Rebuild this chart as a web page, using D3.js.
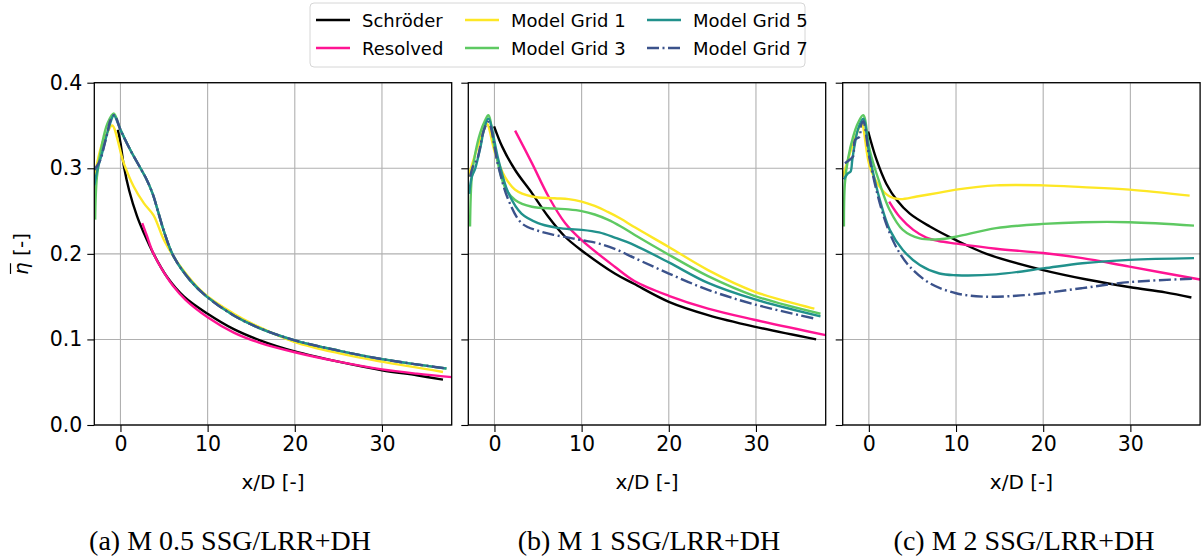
<!DOCTYPE html>
<html>
<head>
<meta charset="utf-8">
<script src="https://cdn.jsdelivr.net/npm/d3@7"></script>
<style>
body { margin: 0; background: #fff; }
</style>
</head>
<body>
<svg id="chart" width="1201" height="560"></svg>
<script>
// ---- data: [x/D, eta] ----
// panel (a) M 0.5
var schroederA = [[-0.3,0.345],[0,0.33],[0.4,0.302],[1,0.274],[1.9,0.244],[2.7,0.224],[3.8,0.2],[5.35,0.173],[7.3,0.15],[10,0.13],[13,0.112],[16,0.099],[20,0.086],[25,0.074],[30,0.064],[34,0.058],[37,0.053]];
var resolvedA = [[2.5,0.236],[3,0.222],[3.8,0.2],[5,0.178],[6,0.163],[7.5,0.146],[10,0.126],[13,0.108],[16,0.096],[20,0.085],[25,0.074],[30,0.065],[34,0.06],[38,0.056]];
var grid1A = [[-3,0.29],[-2.1,0.329],[-1.5,0.342],[-0.95,0.35],[0.38,0.306],[1.5,0.279],[2.7,0.259],[3.8,0.245],[5,0.216],[6.9,0.185],[9.55,0.154],[13,0.13],[16,0.114],[20,0.097],[25,0.084],[30,0.074],[37,0.062]];
var grid3A = [[-2.9,0.24],[-2.7,0.29],[-2.1,0.329],[-1.5,0.352],[-0.77,0.364],[0,0.345],[1.15,0.321],[2.3,0.3],[3,0.287],[3.7,0.27],[4.3,0.25],[5,0.226],[6.1,0.197],[8,0.169],[9.9,0.15],[13,0.128],[16,0.113],[20,0.099],[25,0.087],[30,0.077],[37.4,0.066]];
var grid5A = [[-3,0.28],[-2.6,0.3],[-2.1,0.318],[-1.6,0.338],[-1.1,0.355],[-0.77,0.362],[0,0.345],[1.15,0.321],[2.3,0.3],[3,0.287],[3.7,0.27],[4.3,0.25],[5,0.226],[6.1,0.197],[8,0.169],[9.9,0.15],[13,0.128],[16,0.113],[20,0.099],[25,0.087],[30,0.077],[37.4,0.066]];
var grid7A = [[-3,0.298],[-2.3,0.31],[-1.9,0.325],[-1.5,0.341],[-1.15,0.356],[-0.7,0.362],[0,0.345],[1.15,0.321],[2.3,0.3],[3,0.287],[3.7,0.27],[4.3,0.25],[5,0.226],[6.1,0.197],[8,0.169],[9.9,0.15],[13,0.128],[16,0.113],[20,0.099],[25,0.087],[30,0.077],[37.4,0.066]];

// panel (b) M 1
var schroederB = [[-0.04,0.349],[0.9,0.325],[2.37,0.298],[4.3,0.271],[6.2,0.243],[8.1,0.22],[10,0.204],[13.8,0.177],[16,0.165],[20,0.144],[24.5,0.1285],[29.8,0.115],[36.9,0.1]];
var resolvedB = [[2.37,0.344],[4.3,0.306],[6.2,0.267],[8.1,0.236],[10,0.216],[13.8,0.185],[16.1,0.168],[20,0.151],[24.5,0.136],[29.8,0.123],[38,0.105]];
var grid1B = [[-3,0.29],[-2.4,0.31],[-1.8,0.329],[-1.3,0.343],[-0.87,0.352],[0.08,0.3175],[1.2,0.29],[2.37,0.275],[4.3,0.267],[6.9,0.265],[8.5,0.264],[10,0.261],[11.5,0.256],[13,0.249],[14.5,0.241],[16.1,0.231],[20,0.208],[24.5,0.181],[29.8,0.156],[36.7,0.136]];
var grid3B = [[-2.8,0.232],[-2.6,0.29],[-2.2,0.3175],[-1.64,0.341],[-1.07,0.356],[-0.7,0.362],[0.08,0.321],[1.2,0.278],[2.37,0.263],[4.3,0.255],[6.9,0.253],[8.5,0.252],[10,0.25],[11.5,0.246],[13,0.24],[14.5,0.232],[16.1,0.222],[20,0.199],[24.5,0.174],[29.8,0.151],[37.4,0.13]];
var grid5B = [[-2.9,0.27],[-2.6,0.29],[-2.2,0.3],[-1.6,0.325],[-1.2,0.345],[-0.7,0.358],[0.45,0.31],[1.6,0.271],[3.1,0.247],[5,0.236],[6.9,0.231],[8.5,0.229],[10,0.228],[12,0.225],[13.8,0.219],[16.1,0.21],[20,0.19],[24.5,0.166],[29.8,0.147],[37.4,0.127]];
var grid7B = [[-2.8,0.29],[-2.4,0.304],[-2,0.31],[-1.64,0.325],[-1.26,0.343],[-0.7,0.354],[0.45,0.302],[1.6,0.263],[3.1,0.236],[5,0.227],[6.9,0.222],[8.5,0.219],[10,0.216],[12,0.212],[14,0.205],[16.1,0.195],[20,0.177],[24.5,0.158],[29.8,0.141],[36.9,0.124]];

// panel (c) M 2
var schroederC = [[-0.08,0.343],[0.88,0.31],[2,0.282],[3.2,0.263],[4.7,0.247],[7,0.232],[10,0.216],[13.5,0.2],[20,0.181],[25,0.17],[30,0.161],[34,0.155],[37,0.149]];
var resolvedC = [[2.33,0.261],[3.55,0.243],[5.1,0.228],[6.6,0.219],[8,0.215],[10,0.212],[14.6,0.206],[20,0.201],[24.5,0.195],[29.9,0.185],[38,0.17]];
var grid1C = [[-3,0.29],[-2.4,0.31],[-1.8,0.329],[-1.3,0.343],[-0.84,0.3526],[0.1,0.302],[1.26,0.278],[2.4,0.267],[3.55,0.264],[5.5,0.267],[7.8,0.271],[10,0.275],[14.6,0.28],[20,0.28],[24.5,0.278],[29.9,0.275],[36.8,0.268]];
var grid3C = [[-2.86,0.232],[-2.75,0.282],[-2.37,0.312],[-1.8,0.337],[-1.26,0.3526],[-0.65,0.362],[0.1,0.321],[1.26,0.282],[2.4,0.251],[3.9,0.228],[5.84,0.218],[8.1,0.217],[10,0.22],[14.6,0.23],[20,0.235],[24.5,0.237],[29.9,0.237],[37.3,0.233]];
var grid5C = [[-2.86,0.287],[-2.4,0.294],[-2.1,0.296],[-1.9,0.31],[-1.6,0.329],[-1.26,0.345],[-0.65,0.358],[0.1,0.3135],[1.26,0.263],[2.4,0.228],[3.9,0.2045],[5.84,0.187],[8.1,0.177],[10,0.175],[14.6,0.176],[20,0.183],[24.5,0.189],[29.9,0.193],[37.3,0.195]];
var grid7C = [[-2.75,0.306],[-2.2,0.31],[-1.8,0.314],[-1.6,0.333],[-1.07,0.337],[-0.9,0.35],[-0.65,0.355],[0.1,0.31],[1.26,0.259],[2.4,0.224],[3.55,0.2006],[4.7,0.185],[7,0.1656],[10,0.154],[13.1,0.15],[16.9,0.151],[20,0.154],[24.5,0.16],[29.9,0.167],[37.3,0.171]];

var seriesNames = ["Schröder", "Resolved", "Model Grid 1", "Model Grid 3", "Model Grid 5", "Model Grid 7"];
var seriesColors = ["#000000", "#ff1493", "#fde725", "#5ec962", "#21918c", "#3b528b"];
var seriesDash = [null, null, null, null, null, "12,3.5,2,3.5"];
var panelData = [
	[schroederA, resolvedA, grid1A, grid3A, grid5A, grid7A],
	[schroederB, resolvedB, grid1B, grid3B, grid5B, grid7B],
	[schroederC, resolvedC, grid1C, grid3C, grid5C, grid7C]
];
var captions = ["(a) M 0.5 SSG/LRR+DH", "(b) M 1 SSG/LRR+DH", "(c) M 2 SSG/LRR+DH"];
var xTicks = [0, 10, 20, 30];
var yTicks = [0.0, 0.1, 0.2, 0.3, 0.4];

// ---- layout ----
var svg = d3.select("#chart");
var panelLeft = [94.3, 468.3, 842.7], panelW = 357.4;
var plotTop = 82.7, plotBottom = 425;
var captionX = [230, 649, 1024];
var font = "DejaVu Sans, sans-serif";

var y = d3.scaleLinear().domain([0, 0.4]).range([plotBottom, plotTop]);

panelData.forEach(function(series, p) {
	var x = d3.scaleLinear().domain([-3, 38]).range([panelLeft[p], panelLeft[p] + panelW]);
	var g = svg.append("g").attr("class", "panel");

	// grid
	g.selectAll("line.gx").data(xTicks).enter().append("line")
		.attr("x1", function(d) { return x(d); }).attr("x2", function(d) { return x(d); })
		.attr("y1", plotTop).attr("y2", plotBottom)
		.style("stroke", "#b0b0b0").style("stroke-width", 1.1);
	g.selectAll("line.gy").data(yTicks).enter().append("line")
		.attr("x1", x.range()[0]).attr("x2", x.range()[1])
		.attr("y1", function(d) { return y(d); }).attr("y2", function(d) { return y(d); })
		.style("stroke", "#b0b0b0").style("stroke-width", 1.1);

	svg.append("clipPath").attr("id", "clip" + p).append("rect")
		.attr("x", x.range()[0]).attr("y", plotTop).attr("width", panelW).attr("height", plotBottom - plotTop);

	var line = d3.line()
		.x(function(d) { return x(d[0]); })
		.y(function(d) { return y(d[1]); })
		.curve(d3.curveCatmullRom.alpha(0.5));

	var lines = g.append("g").attr("clip-path", "url(#clip" + p + ")");
	series.forEach(function(pts, i) {
		lines.append("path").attr("d", line(pts))
			.style("fill", "none").style("stroke", seriesColors[i])
			.style("stroke-width", 2.4)
			.style("stroke-dasharray", seriesDash[i])
			.style("stroke-linejoin", "round");
	});

	// axes
	var xAxis = d3.axisBottom(x).tickValues(xTicks).tickSize(7).tickPadding(4);
	var yAxis = d3.axisLeft(y).tickValues(yTicks).tickSize(7).tickPadding(5)
		.tickFormat(p === 0 ? d3.format(".1f") : "");
	var gx = g.append("g").attr("transform", "translate(0," + plotBottom + ")").call(xAxis);
	var gy = g.append("g").attr("transform", "translate(" + x.range()[0] + ",0)").call(yAxis);
	[gx, gy].forEach(function(a) {
		a.select(".domain").remove();
		a.selectAll("line").style("stroke", "#000").style("stroke-width", 1.1);
		a.selectAll("text").style("font-family", font).style("font-size", "20.5px").style("fill", "#000");
	});

	g.append("rect").attr("x", x.range()[0]).attr("y", plotTop)
		.attr("width", panelW).attr("height", plotBottom - plotTop)
		.style("fill", "none").style("stroke", "#000").style("stroke-width", 1.3);

	g.append("text").attr("x", panelLeft[p] + panelW / 2).attr("y", 489)
		.attr("text-anchor", "middle")
		.style("font-family", font).style("font-size", "20px")
		.text("x/D [-]");

	svg.append("text").attr("x", captionX[p]).attr("y", 550)
		.attr("text-anchor", "middle")
		.style("font-family", "Liberation Serif, Times New Roman, serif").style("font-size", "28px")
		.text(captions[p]);
});

// y label: overlined eta
var yl = svg.append("g").attr("transform", "translate(28,254) rotate(-90)");
var ylt = yl.append("text").attr("text-anchor", "middle")
	.style("font-family", font).style("font-size", "20px");
ylt.append("tspan").style("font-style", "italic").text("η");
ylt.append("tspan").text(" [-]");
var ext = ylt.node().getExtentOfChar(0);
yl.append("line").attr("x1", ext.x + 1).attr("x2", ext.x + ext.width - 1)
	.attr("y1", -17.5).attr("y2", -17.5)
	.style("stroke", "#000").style("stroke-width", 1.2);

// legend
var legend = svg.append("g");
legend.append("rect").attr("x", 310).attr("y", 3).attr("width", 495).attr("height", 64)
	.attr("rx", 4).style("fill", "#fff").style("stroke", "#d6d6d6").style("stroke-width", 1);
var colX = [316, 465, 647], rowY = [20, 48];
seriesNames.forEach(function(name, i) {
	var c = Math.floor(i / 2), r = i % 2;
	legend.append("line").attr("x1", colX[c]).attr("x2", colX[c] + 34)
		.attr("y1", rowY[r]).attr("y2", rowY[r])
		.style("stroke", seriesColors[i]).style("stroke-width", 2.4)
		.style("stroke-dasharray", seriesDash[i]);
	legend.append("text").attr("x", colX[c] + 46).attr("y", rowY[r] + 6.5)
		.style("font-family", font).style("font-size", "18px")
		.text(name);
});
</script>
</body>
</html>
